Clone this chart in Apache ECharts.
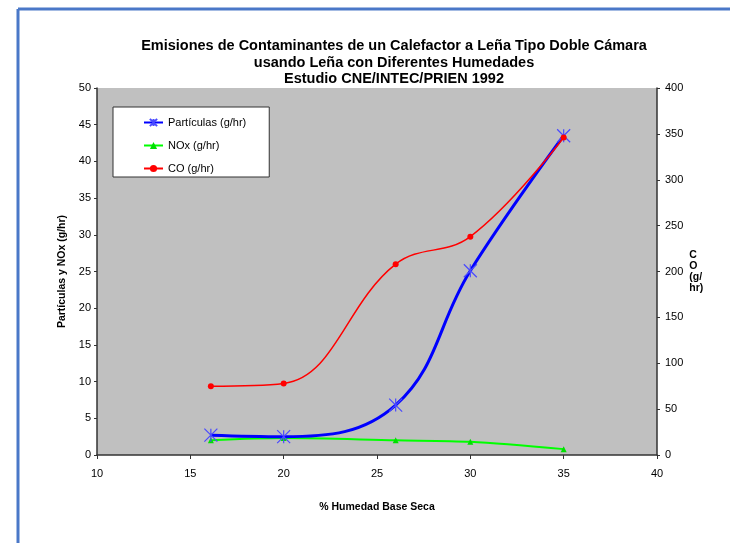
<!DOCTYPE html>
<html><head><meta charset="utf-8">
<script src="https://cdn.jsdelivr.net/npm/echarts@6/dist/echarts.min.js"></script>
<style>html,body{margin:0;padding:0;background:#fff}#c{width:730px;height:543px}</style>
</head><body><div id="c"></div>
<script>
const humedad = [16.1, 20, 26, 30, 35];
const particulas = [2.7, 2.5, 6.8, 25.1, 43.5];
const nox = [2.0, 2.3, 2.0, 1.8, 0.8];
const co = [75, 78, 208, 238, 346];
const xTicks = [10, 15, 20, 25, 30, 35, 40];

const pairs = (xs, ys) => xs.map((x, i) => [x, ys[i]]);
const F = 'Liberation Sans, Arial, sans-serif';
const chart = echarts.init(document.getElementById('c'));
chart.setOption({
  backgroundColor: '#ffffff',
  animation: false,
  title: {
    text: 'Emisiones de Contaminantes de un Calefactor a Leña Tipo Doble Cámara\nusando Leña con Diferentes Humedades\nEstudio CNE/INTEC/PRIEN 1992',
    left: 389, top: 33, textAlign: 'center',
    textStyle: {fontFamily: F, fontSize: 14.5, fontWeight: 'bold', color: '#000', lineHeight: 16.5}
  },
  graphic: [
    {type: 'line', shape: {x1: 18, y1: 9, x2: 730, y2: 9}, style: {stroke: '#4a78c8', lineWidth: 3}},
    {type: 'line', shape: {x1: 18, y1: 9, x2: 18, y2: 543}, style: {stroke: '#4a78c8', lineWidth: 3}}
  ],
  legend: {
    left: 113, top: 107, orient: 'vertical',
    backgroundColor: '#fff', borderColor: '#333', borderWidth: 1,
    padding: [10, 23, 3, 30], itemGap: 12, itemWidth: 19, itemHeight: 9,
    textStyle: {fontFamily: F, fontSize: 11, color: '#000'},
    data: ['Partículas (g/hr)', 'NOx (g/hr)', 'CO (g/hr)']
  },
  grid: {left: 97, right: 73, top: 88, bottom: 88, show: true, backgroundColor: '#c0c0c0', borderWidth: 0},
  xAxis: {
    type: 'value', min: 10, max: 40, interval: 5,
    name: '% Humedad Base Seca', nameLocation: 'middle', nameGap: 47,
    nameTextStyle: {fontFamily: F, fontSize: 10.5, fontWeight: 'bold', color: '#000'},
    axisLine: {lineStyle: {color: '#333', width: 1.5}},
    axisTick: {length: 4, lineStyle: {color: '#333'}},
    axisLabel: {fontFamily: F, fontSize: 11, color: '#000', margin: 13,
      formatter: v => xTicks.includes(v) ? String(v) : ''},
    splitLine: {show: false}
  },
  yAxis: [
    {
      type: 'value', min: 0, max: 50, interval: 5, position: 'left',
      name: 'Partículas y NOx (g/hr)', nameLocation: 'middle', nameGap: 29,
      nameTextStyle: {fontFamily: F, fontSize: 10.5, fontWeight: 'bold', color: '#000'},
      axisLine: {show: true, lineStyle: {color: '#333', width: 1.5}},
      axisTick: {show: true, length: 3, lineStyle: {color: '#333'}},
      axisLabel: {fontFamily: F, fontSize: 11, color: '#000', margin: 6},
      splitLine: {show: false}
    },
    {
      type: 'value', min: 0, max: 400, interval: 50, position: 'right',
      name: 'C\nO\n(g/\nhr)', nameLocation: 'middle', nameGap: 30, nameRotate: 0,
      nameTextStyle: {fontFamily: F, fontSize: 10.5, fontWeight: 'bold', color: '#000', align: 'left', lineHeight: 11},
      axisLine: {show: true, lineStyle: {color: '#333', width: 1.5}},
      axisTick: {show: true, length: 3, lineStyle: {color: '#333'}},
      axisLabel: {fontFamily: F, fontSize: 11, color: '#000', margin: 8},
      splitLine: {show: false}
    }
  ],
  series: [
    {
      name: 'Partículas (g/hr)', type: 'line', yAxisIndex: 0, smooth: 0.4,
      data: pairs(humedad, particulas),
      symbol: 'path://M0,0L10,10M10,0L0,10M5,0L5,10', symbolSize: 13,
      lineStyle: {color: '#0000ff', width: 3},
      itemStyle: {color: '#0000ff', borderColor: '#4a4aff', borderWidth: 1.2},
      z: 4
    },
    {
      name: 'NOx (g/hr)', type: 'line', yAxisIndex: 0, smooth: 0.3,
      data: pairs(humedad, nox),
      symbol: 'triangle', symbolSize: 6,
      lineStyle: {color: '#00ff00', width: 2},
      itemStyle: {color: '#00e000'},
      z: 3
    },
    {
      name: 'CO (g/hr)', type: 'line', yAxisIndex: 1, smooth: 0.4,
      data: pairs(humedad, co),
      symbol: 'circle', symbolSize: 6,
      lineStyle: {color: '#ff0000', width: 1.5},
      itemStyle: {color: '#ff0000'},
      z: 5
    }
  ]
});
</script>
</body></html>
